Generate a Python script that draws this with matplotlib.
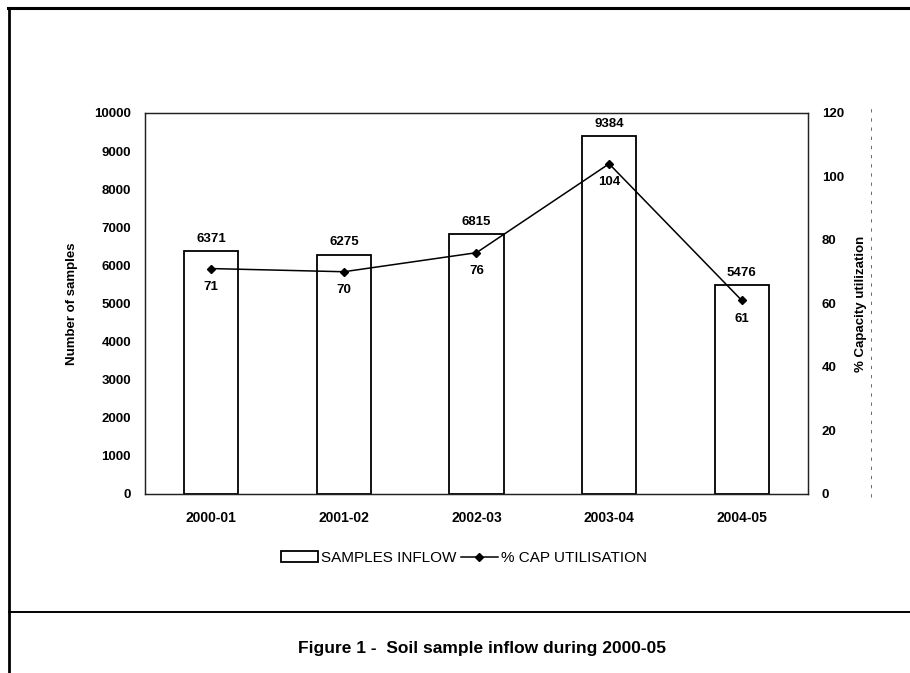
import matplotlib.pyplot as plt
from matplotlib.lines import Line2D

plt.rcParams['font.family'] = ['Liberation Sans', 'DejaVu Sans']

years = ['2000-01', '2001-02', '2002-03', '2003-04', '2004-05']
samples = [6371, 6275, 6815, 9384, 5476]
cap_util = [71, 70, 76, 104, 61]

fig = plt.figure(figsize=(9.1, 6.73), dpi=100)
ax = fig.add_axes([0.1593, 0.266, 0.7286, 0.5661])
ax2 = ax.twinx()

x = range(len(years))
bars = ax.bar(x, samples, width=0.41, color='white', edgecolor='black', linewidth=1.3,
              label='SAMPLES INFLOW')
line, = ax2.plot(x, cap_util, color='black', marker='D', markersize=4.5, linewidth=1.1,
                 label='% CAP UTILISATION')

# bar value labels
for xi, v in zip(x, samples):
    ax.text(xi, v + 170, str(v), ha='center', va='bottom', fontsize=9.5, fontweight='bold')
# percentage labels under points
for xi, v in zip(x, cap_util):
    ax2.text(xi, v - 5.8, str(v), ha='center', va='center', fontsize=9.5, fontweight='bold')

ax.set_xlim(-0.5, len(years) - 0.5)
ax.set_ylim(0, 10000)
ax.set_yticks(range(0, 10001, 1000))
ax2.set_ylim(0, 120)
ax2.set_yticks(range(0, 121, 20))

ax.set_xticks(list(x))
ax.set_xticklabels(years, fontsize=10, fontweight='bold')
for lab in ax.get_yticklabels() + ax2.get_yticklabels():
    lab.set_fontsize(9.5)
    lab.set_fontweight('bold')

ax.tick_params(axis='y', length=0, pad=10)
ax.tick_params(axis='x', length=0, pad=12)
ax2.tick_params(length=0, pad=10)

ax.set_ylabel('Number of samples', fontsize=9.5, fontweight='bold', labelpad=12)
ax2.set_ylabel('% Capacity utilization', fontsize=9.5, fontweight='bold', labelpad=8)

for sp in list(ax.spines.values()) + list(ax2.spines.values()):
    sp.set_linewidth(0.9)
    sp.set_color('#222222')

fig.legend(handles=[bars, line], loc='center', bbox_to_anchor=(0.51, 0.171), ncol=2,
           frameon=False, fontsize=11, handlelength=2.4, columnspacing=0.3,
           handletextpad=0.2)

# page frame lines
fig.add_artist(Line2D([0.009, 1.0], [0.988, 0.988], color='black', linewidth=2.2))
fig.add_artist(Line2D([0.010, 0.010], [0.0, 0.988], color='black', linewidth=2.0))
fig.add_artist(Line2D([0.010, 1.0], [0.091, 0.091], color='black', linewidth=1.4))
fig.add_artist(Line2D([0.957, 0.957], [0.262, 0.847], color='#555555', linewidth=0.6,
                      linestyle=(0, (4, 7))))

fig.text(0.53, 0.037, 'Figure 1 -  Soil sample inflow during 2000-05', ha='center',
         va='center', fontsize=12.5, fontweight='bold')

fig.savefig('out.png', dpi=100)
